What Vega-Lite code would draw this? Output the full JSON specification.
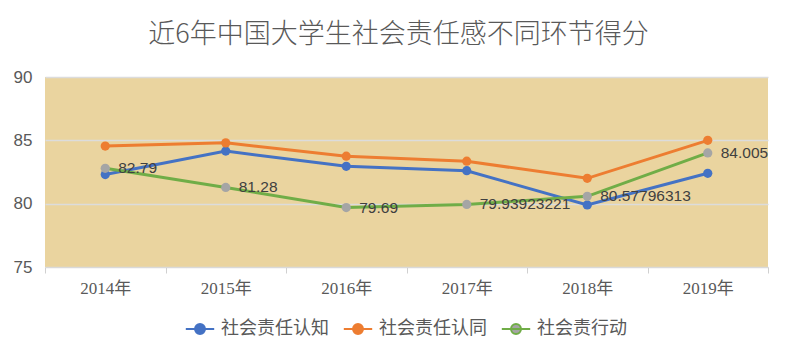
{
  "$schema": "https://vega.github.io/schema/vega-lite/v6.json",
  "width": 723,
  "height": 190,
  "autosize": {"type": "none"},
  "padding": {"left": 45, "top": 77, "right": 30, "bottom": 97},
  "background": "white",
  "title": {
    "text": "近6年中国大学生社会责任感不同环节得分",
    "font": "Noto Sans CJK SC",
    "fontSize": 27,
    "fontWeight": 300,
    "color": "#595959",
    "anchor": "middle",
    "dx": -8,
    "offset": 19
  },
  "data": {
    "values": [
      {"year": "2014年", "series": "社会责任认知", "value": 82.3},
      {"year": "2015年", "series": "社会责任认知", "value": 84.15},
      {"year": "2016年", "series": "社会责任认知", "value": 82.95},
      {"year": "2017年", "series": "社会责任认知", "value": 82.6},
      {"year": "2018年", "series": "社会责任认知", "value": 79.9},
      {"year": "2019年", "series": "社会责任认知", "value": 82.4},
      {"year": "2014年", "series": "社会责任认同", "value": 84.55},
      {"year": "2015年", "series": "社会责任认同", "value": 84.8},
      {"year": "2016年", "series": "社会责任认同", "value": 83.75},
      {"year": "2017年", "series": "社会责任认同", "value": 83.35},
      {"year": "2018年", "series": "社会责任认同", "value": 82.0},
      {"year": "2019年", "series": "社会责任认同", "value": 85.0},
      {"year": "2014年", "series": "社会责行动", "value": 82.79, "label": "82.79"},
      {"year": "2015年", "series": "社会责行动", "value": 81.28, "label": "81.28"},
      {"year": "2016年", "series": "社会责行动", "value": 79.69, "label": "79.69"},
      {"year": "2017年", "series": "社会责行动", "value": 79.93923221, "label": "79.93923221"},
      {"year": "2018年", "series": "社会责行动", "value": 80.57796313, "label": "80.57796313"},
      {"year": "2019年", "series": "社会责行动", "value": 84.005, "label": "84.005"}
    ]
  },
  "encoding": {
    "x": {
      "field": "year",
      "type": "ordinal",
      "title": null,
      "scale": {"paddingInner": 0, "paddingOuter": 0},
      "axis": {
        "labelAngle": 0,
        "labelFont": "Liberation Serif, Noto Sans CJK SC",
        "labelFontSize": 17,
        "labelColor": "#595959",
        "tickBand": "extent",
        "tickSize": 6,
        "tickColor": "#d0d0d0",
        "domainColor": "#d9d9d9",
        "labelPadding": 7
      }
    },
    "y": {
      "field": "value",
      "type": "quantitative",
      "title": null,
      "scale": {"domain": [75, 90], "nice": false, "zero": false},
      "axis": {
        "values": [75, 80, 85, 90],
        "domain": false,
        "ticks": false,
        "labelFont": "Liberation Sans",
        "labelFontSize": 17,
        "labelColor": "#595959",
        "labelPadding": 13,
        "gridColor": "#dcdcdc",
        "gridWidth": 1.5
      }
    }
  },
  "layer": [
    {
      "mark": {"type": "line", "strokeWidth": 3},
      "encoding": {
        "stroke": {
          "field": "series",
          "type": "nominal",
          "scale": {
            "domain": ["社会责任认知", "社会责任认同", "社会责行动"],
            "range": ["#4472C4", "#ED7D31", "#70AD47"]
          },
          "legend": {
            "title": null,
            "orient": "bottom",
            "direction": "horizontal",
            "offset": 20,
            "labelFont": "Liberation Serif, Noto Sans CJK SC",
            "labelFontSize": 18,
            "labelColor": "#595959",
            "symbolType": "M-1.2,0L1.2,0M0.42,0A0.42,0.42,0,1,1,-0.42,0A0.42,0.42,0,1,1,0.42,0",
            "symbolSize": 560,
            "symbolStrokeWidth": 2,
            "columnPadding": 10,
            "labelOffset": 8,
            "encode": {
              "symbols": {
                "update": {
                  "fill": {"scale": "fill", "field": "value"},
                  "opacity": {"value": 1}
                }
              }
            }
          }
        }
      }
    },
    {
      "mark": {"type": "circle", "size": 85, "opacity": 1},
      "encoding": {
        "fill": {
          "field": "series",
          "type": "nominal",
          "scale": {
            "domain": ["社会责任认知", "社会责任认同", "社会责行动"],
            "range": ["#4472C4", "#ED7D31", "#A5A5A5"]
          },
          "legend": null
        }
      }
    },
    {
      "transform": [{"filter": "isValid(datum.label)"}],
      "mark": {
        "type": "text",
        "align": "left",
        "baseline": "middle",
        "dx": 13,
        "font": "Liberation Sans",
        "fontSize": 15.5,
        "color": "#404040"
      },
      "encoding": {
        "text": {"field": "label", "type": "nominal"}
      }
    }
  ],
  "config": {
    "view": {"fill": "#EAD49F", "stroke": null},
    "legend": {"layout": {"bottom": {"anchor": "middle"}}}
  }
}
